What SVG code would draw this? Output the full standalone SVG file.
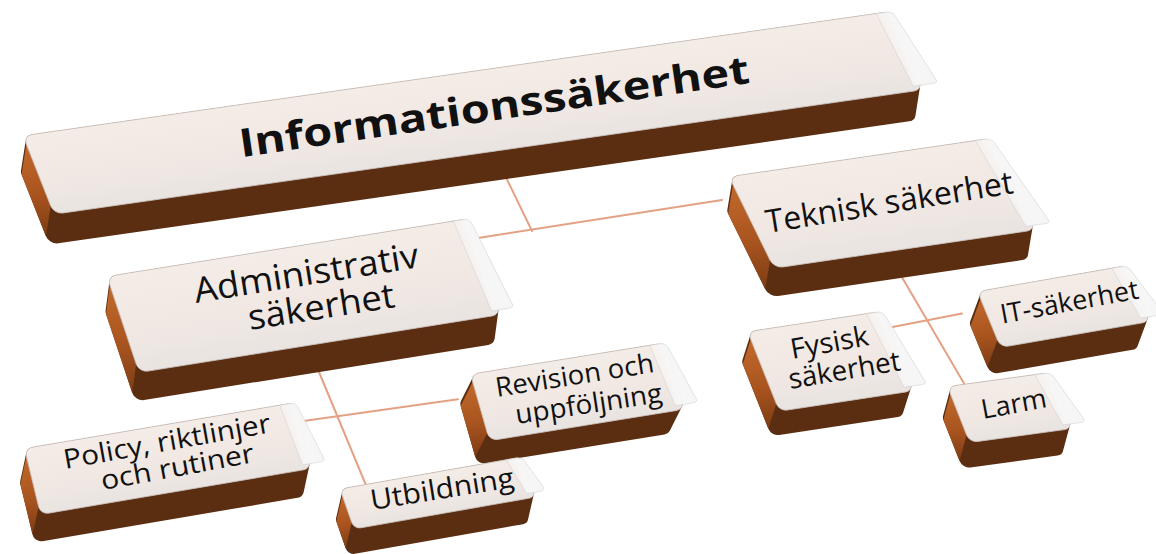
<svg xmlns="http://www.w3.org/2000/svg" width="1156" height="554" viewBox="0 0 1156 554">
<defs>
<linearGradient id="gFace" x1="0" y1="0" x2="0" y2="1">
<stop offset="0" stop-color="#f4ece7"/>
<stop offset="0.55" stop-color="#f1e8e3"/>
<stop offset="1" stop-color="#e9e4e1"/>
</linearGradient>
<linearGradient id="gSide" x1="0" y1="0" x2="0" y2="1">
<stop offset="0" stop-color="#c2692c"/>
<stop offset="0.55" stop-color="#a9541f"/>
<stop offset="1" stop-color="#7c3c14"/>
</linearGradient>
<linearGradient id="gHl" x1="0" y1="0" x2="1" y2="0">
<stop offset="0" stop-color="#f8f8f8" stop-opacity="0.35"/>
<stop offset="0.4" stop-color="#f7f7f7" stop-opacity="0.95"/>
<stop offset="1" stop-color="#f5f5f5" stop-opacity="1"/>
</linearGradient>
</defs>
<style>
.body{fill:#5b2e12;stroke:#5b2e12;stroke-linejoin:round}
.side{fill:url(#gSide)}
.face{fill:url(#gFace);stroke:#cdc4bf;stroke-width:0.8}
.hl{fill:url(#gHl);stroke:#d3d3d3;stroke-width:0.7;stroke-opacity:0.8}
.t{font-family:"Open Sans","DejaVu Sans",sans-serif;fill:#111;text-anchor:middle}
.b{font-weight:bold}
.conn{stroke:#e4a184;stroke-width:2;fill:none;stroke-linecap:round}
</style>
<rect width="1156" height="554" fill="#ffffff"/>

<g id="connectors">
<path class="conn" d="M500,165 L532,231"/>
<path class="conn" d="M478,238 L722,200"/>
<path class="conn" d="M314,360 L368,490"/>
<path class="conn" d="M300,421.4 L458,399.2"/>
<path class="conn" d="M889,255 L969,392"/>
<path class="conn" d="M890,327.5 L962,313.6"/>
</g>

<g id="informationssakerhet">
<g transform="matrix(0.98975,-0.14180,0.36905,0.93452,23,135.75)">
<polygon class="body" stroke-width="18" points="9,9 869,9 869,75 853,105 -7,105 -7,39"/>
<polygon class="side" points="0,9 -16,39 -16,105 0,75"/>
<rect class="face" x="0" y="0" width="878" height="84" rx="9"/>
<path class="hl" d="M862,0 L873,0 Q877,0 879,4 L894,74 Q896,79 890,79 L870,79 Z"/>
</g>
<text class="t b" font-size="39" textLength="515" lengthAdjust="spacingAndGlyphs" transform="translate(496,120) rotate(-8.3)">Informationssäkerhet</text>
</g>

<g id="teknisk">
<g transform="matrix(0.98868,-0.14528,0.44118,0.89706,729,176.75)">
<polygon class="body" stroke-width="18" points="9,9 256,9 256,93 238,122.4 -9,122.4 -9,38.4"/>
<polygon class="side" points="0,9 -18,38.4 -18,122.4 0,93"/>
<rect class="face" x="0" y="0" width="265" height="102" rx="9"/>
<path class="hl" d="M249,0 L260,0 Q264,0 266,4 L281,92 Q283,97 277,97 L257,97 Z"/>
</g>
<text class="t" font-size="32" textLength="250" lengthAdjust="spacingAndGlyphs" transform="translate(891,213) rotate(-9.2)">Teknisk säkerhet</text>
</g>

<g id="administrativ">
<g transform="matrix(0.98638,-0.15804,0.31683,0.95050,107,276.5)">
<polygon class="body" stroke-width="18" points="9,9 358,9 358,92 345,120.3 -4,120.3 -4,37.3"/>
<polygon class="side" points="0,9 -13,37.3 -13,120.3 0,92"/>
<rect class="face" x="0" y="0" width="367" height="101" rx="9"/>
<path class="hl" d="M351,0 L362,0 Q366,0 368,4 L381,91 Q383,96 377,96 L359,96 Z"/>
</g>
<text class="t" font-size="35" textLength="227" lengthAdjust="spacingAndGlyphs" transform="translate(308,285) rotate(-9.1)">Administrativ</text>
<text class="t" font-size="35" textLength="148" lengthAdjust="spacingAndGlyphs" transform="translate(323,318.5) rotate(-8.9)">säkerhet</text>
</g>

<g id="policy">
<g transform="matrix(0.98545,-0.16727,0.23529,0.97059,24.5,448.5)">
<polygon class="body" stroke-width="16" points="8,8 267,8 267,60 254.5,86.7 -4.5,86.7 -4.5,34.7"/>
<polygon class="side" points="0,8 -12.5,34.7 -12.5,86.7 0,60"/>
<rect class="face" x="0" y="0" width="275" height="68" rx="8"/>
<path class="hl" d="M259,0 L270,0 Q274,0 276,4 L289,58 Q291,63 285,63 L267,63 Z"/>
</g>
<text class="t" font-size="27" textLength="210" lengthAdjust="spacingAndGlyphs" transform="translate(168.5,450.5) rotate(-10.1)">Policy, riktlinjer</text>
<text class="t" font-size="27" textLength="155" lengthAdjust="spacingAndGlyphs" transform="translate(179,476) rotate(-10.4)">och rutiner</text>
</g>

<g id="revision">
<g transform="matrix(0.98734,-0.15949,0.27457,0.96098,470.5,374.25)">
<polygon class="body" stroke-width="16" points="8,8 189.5,8 189.5,61.2 171.2,83.1 -10.3,83.1 -10.3,29.9"/>
<polygon class="side" points="0,8 -18.3,29.9 -18.3,83.1 0,61.2"/>
<rect class="face" x="0" y="0" width="197.5" height="69.2" rx="8"/>
<path class="hl" d="M181.5,0 L192.5,0 Q196.5,0 198.5,4 L211.5,59.2 Q213.5,64.2 207.5,64.2 L189.5,64.2 Z"/>
</g>
<text class="t" font-size="27" textLength="160" lengthAdjust="spacingAndGlyphs" transform="translate(576,384.5) rotate(-9)">Revision och</text>
<text class="t" font-size="27" textLength="148" lengthAdjust="spacingAndGlyphs" transform="translate(590,413) rotate(-8.6)">uppföljning</text>
</g>

<g id="utbildning">
<g transform="matrix(0.98485,-0.17316,0.33019,0.94340,340,489)">
<polygon class="body" stroke-width="14" points="7,7 177.8,7 177.8,35.4 163.4,60.3 -7.4,60.3 -7.4,31.9"/>
<polygon class="side" points="0,7 -14.4,31.9 -14.4,60.3 0,35.4"/>
<rect class="face" x="0" y="0" width="184.8" height="42.4" rx="7"/>
<path class="hl" d="M168.8,0 L179.8,0 Q183.8,0 185.8,4 L194.8,32.4 Q196.8,37.4 190.8,37.4 L176.8,37.4 Z"/>
</g>
<text class="t" font-size="28" textLength="145" lengthAdjust="spacingAndGlyphs" transform="translate(443.5,498.5) rotate(-9.1)">Utbildning</text>
</g>

<g id="fysisk">
<g transform="matrix(0.98861,-0.15068,0.36838,0.92972,747.75,331.75)">
<polygon class="body" stroke-width="16" points="8,8 128,8 128,77.5 111,101.6 -9,101.6 -9,32.1"/>
<polygon class="side" points="0,8 -17,32.1 -17,101.6 0,77.5"/>
<rect class="face" x="0" y="0" width="136" height="85.5" rx="8"/>
<path class="hl" d="M120,0 L131,0 Q135,0 137,4 L150,75.5 Q152,80.5 146,80.5 L128,80.5 Z"/>
</g>
<text class="t" font-size="28" textLength="79" lengthAdjust="spacingAndGlyphs" transform="translate(831,352) rotate(-10.2)">Fysisk</text>
<text class="t" font-size="28" textLength="113" lengthAdjust="spacingAndGlyphs" transform="translate(846,379.5) rotate(-9.6)">säkerhet</text>
</g>

<g id="it">
<g transform="matrix(0.98529,-0.17078,0.37991,0.92501,977.5,291.5)">
<polygon class="body" stroke-width="16" points="8,8 144.2,8 144.2,52.5 124.2,78 -12,78 -12,33.5"/>
<polygon class="side" points="0,8 -20,33.5 -20,78 0,52.5"/>
<rect class="face" x="0" y="0" width="152.2" height="60.5" rx="8"/>
<path class="hl" d="M136.2,0 L147.2,0 Q151.2,0 153.2,4 L166.2,50.5 Q168.2,55.5 162.2,55.5 L144.2,55.5 Z"/>
</g>
<text class="t" font-size="27" textLength="140" lengthAdjust="spacingAndGlyphs" transform="translate(1071,311) rotate(-10.5)">IT-säkerhet</text>
</g>

<g id="larm">
<g transform="matrix(0.99086,-0.13468,0.36563,0.93070,947.5,386.5)">
<polygon class="body" stroke-width="16" points="8,8 96,8 96,52.2 79.5,77.7 -8.5,77.7 -8.5,33.5"/>
<polygon class="side" points="0,8 -16.5,33.5 -16.5,77.7 0,52.2"/>
<rect class="face" x="0" y="0" width="104" height="60.2" rx="8"/>
<path class="hl" d="M88,0 L99,0 Q103,0 105,4 L118,50.2 Q120,55.2 114,55.2 L96,55.2 Z"/>
</g>
<text class="t" font-size="27" textLength="66" lengthAdjust="spacingAndGlyphs" transform="translate(1015.5,413) rotate(-10.5)">Larm</text>
</g>
</svg>
